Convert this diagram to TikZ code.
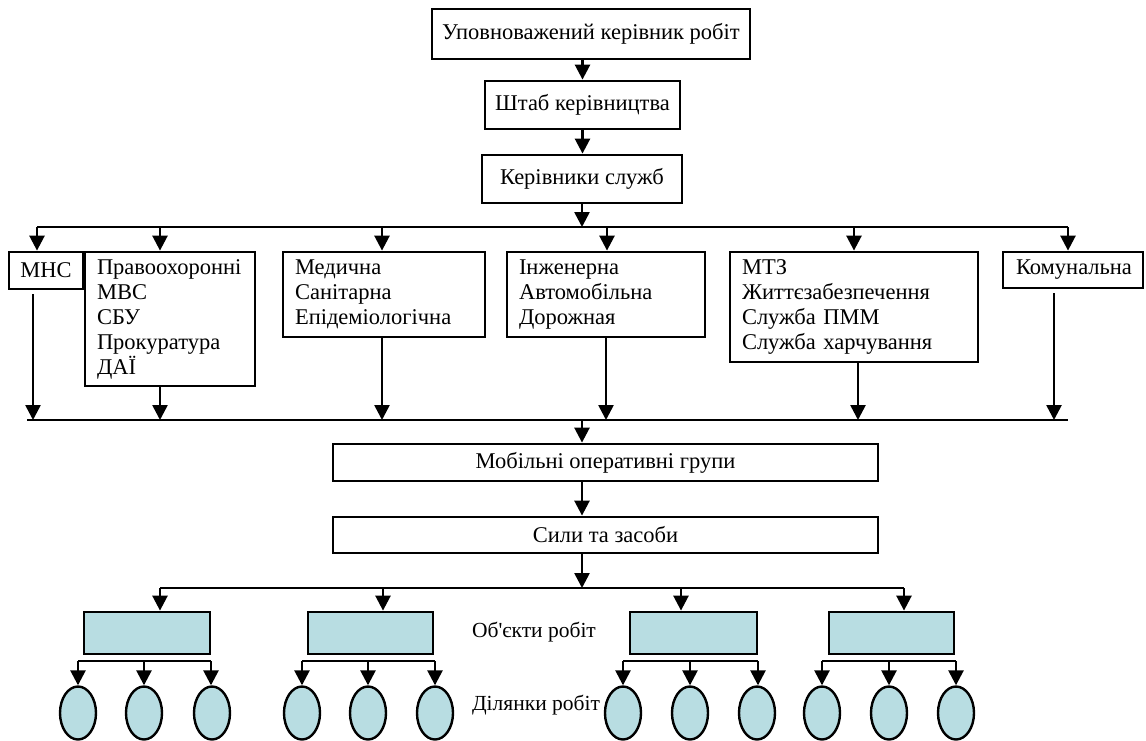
\documentclass[tikz,border=0pt]{standalone}
\usepackage{fontspec}
\setmainfont{Liberation Serif}
\usetikzlibrary{arrows.meta,shapes.geometric}
\definecolor{objblue}{RGB}{184,221,226}
\begin{document}
\begin{tikzpicture}[x=1pt,y=-1pt,
  txt/.style={font=\fontsize{22.5}{25}\selectfont},
  cbox/.style={draw, line width=2.8pt, inner sep=0pt, txt, align=center},
  lbox/.style={draw, line width=2.8pt, inner xsep=12pt, inner ysep=0pt, txt, align=left},
  arr/.style={line width=2.6pt, -{Triangle[length=15pt,width=15pt]}},
  bus/.style={line width=1.8pt},
  subbus/.style={line width=2.6pt},
  obj/.style={draw, line width=2.8pt, fill=objblue, minimum height=42pt, inner sep=0pt},
  site/.style={draw, line width=2.4pt, fill=objblue, ellipse, minimum width=36pt, minimum height=53pt, inner sep=0pt},
  lbl/.style={font=\fontsize{21.5}{25}\selectfont, inner sep=0pt}
]
\useasboundingbox (0,0) rectangle (1146,740);

% top chain
\node[cbox, minimum width=318pt, minimum height=50pt] (top) at (591,34) {Уповноважений керівник робіт};
\node[cbox, minimum width=195pt, minimum height=48pt] (shtab) at (582.5,105) {Штаб керівництва};
\node[cbox, minimum width=200pt, minimum height=48pt] (kers) at (582,179) {Керівники служб};
\draw[arr] (top.south -| shtab.north) -- (shtab.north);
\draw[arr] (shtab.south) -- (shtab.south |- kers.north);

% services row
\node[cbox, minimum width=74pt, minimum height=37pt] (mns) at (46,270.5) {МНС};
\node[lbox, text width=146pt, minimum height=134pt] (prav) at (170,319) {Правоохоронні\\МВС\\СБУ\\Прокуратура\\ДАЇ};
\node[lbox, text width=178pt, minimum height=85pt] (med) at (384,294.5) {Медична\\Санітарна\\Епідеміологічна};
\node[lbox, text width=174pt, minimum height=85pt] (inzh) at (606,294.5) {Інженерна\\Автомобільна\\Дорожная};
\node[lbox, text width=224pt, minimum height=110pt] (mtz) at (854,307) {МТЗ\\Життєзабезпечення\\Служба ПММ\\Служба харчування};
\node[lbox, inner xsep=13pt, text width=114pt, minimum height=36pt] (kom) at (1073,270) {Комунальна};

% upper bus
\coordinate (u0) at (582,227);
\coordinate (u1) at (37,227);
\coordinate (u2) at (160,227);
\coordinate (u3) at (382,227);
\coordinate (u4) at (607,227);
\coordinate (u5) at (854,227);
\coordinate (u6) at (1068,227);
\draw[arr] (kers.south) -- (u0);
\draw[bus] (u1) -- (u6);
\draw[arr] (u1) -- (u1 |- mns.north);
\draw[arr] (u2) -- (u2 |- prav.north);
\draw[arr] (u3) -- (u3 |- med.north);
\draw[arr] (u4) -- (u4 |- inzh.north);
\draw[arr] (u5) -- (u5 |- mtz.north);
\draw[arr] (u6) -- (u6 |- kom.north);

% lower bus
\coordinate (l0) at (582,420);
\coordinate (lL) at (27,420);
\coordinate (lR) at (1068,420);
\coordinate (l1) at (33,420);
\coordinate (l2) at (160,420);
\coordinate (l3) at (382,420);
\coordinate (l4) at (606,420);
\coordinate (l5) at (858,420);
\coordinate (l6) at (1054,420);
\coordinate (s1) at (33,294);
\coordinate (s6) at (1054,293);
\draw[bus] (lL) -- (lR);
\draw[arr] (s1) -- (l1);
\draw[arr] (l2 |- prav.south) -- (l2);
\draw[arr] (l3 |- med.south) -- (l3);
\draw[arr] (l4 |- inzh.south) -- (l4);
\draw[arr] (l5 |- mtz.south) -- (l5);
\draw[arr] (s6) -- (l6);

% groups and forces
\node[cbox, minimum width=545pt, minimum height=37pt] (mob) at (605.5,462.5) {Мобільні оперативні групи};
\node[cbox, minimum width=545pt, minimum height=36pt] (syly) at (605.5,535) {Сили та засоби};
\draw[arr] (l0) -- (l0 |- mob.north);
\draw[arr] (l0 |- mob.south) -- (l0 |- syly.north);
\coordinate (f0) at (582,588);
\draw[arr] (l0 |- syly.south) -- (f0);

% objects bus
\coordinate (f1) at (160,588);
\coordinate (f2) at (383,588);
\coordinate (f3) at (681,588);
\coordinate (f4) at (904,588);
\draw[bus] (f1) -- (f4);
\node[obj, minimum width=126pt] (o1) at (147,633) {};
\node[obj, minimum width=125pt] (o2) at (370.5,633) {};
\node[obj, minimum width=127pt] (o3) at (693.5,633) {};
\node[obj, minimum width=125pt] (o4) at (891.5,633) {};
\draw[arr] (f1) -- (f1 |- o1.north);
\draw[arr] (f2) -- (f2 |- o2.north);
\draw[arr] (f3) -- (f3 |- o3.north);
\draw[arr] (f4) -- (f4 |- o4.north);

\node[lbl] (objl) at (534,632) {Об\textquotesingle єкти робіт};
\node[lbl] (sitel) at (536,705) {Ділянки робіт};

% sites
\foreach \g/\a/\b/\c/\r in {1/78/144/212/211, 2/302/368/435/435, 3/623/690/757/758, 4/822/889/956/956}{
  \node[site] (e\g a) at (\a,713) {};
  \node[site] (e\g b) at (\b,713) {};
  \node[site] (e\g c) at (\c,713) {};
  \coordinate (g\g a) at (\a,661);
  \coordinate (g\g b) at (\b,661);
  \coordinate (g\g c) at (\r,661);
  \draw[subbus] (g\g a) -- (g\g c);
  \draw[arr] (g\g a) -- (e\g a.north);
  \draw[arr] (g\g b) -- (e\g b.north);
  \draw[arr] (g\g c) -- (g\g c |- e\g c.north);
}
\end{tikzpicture}
\end{document}
